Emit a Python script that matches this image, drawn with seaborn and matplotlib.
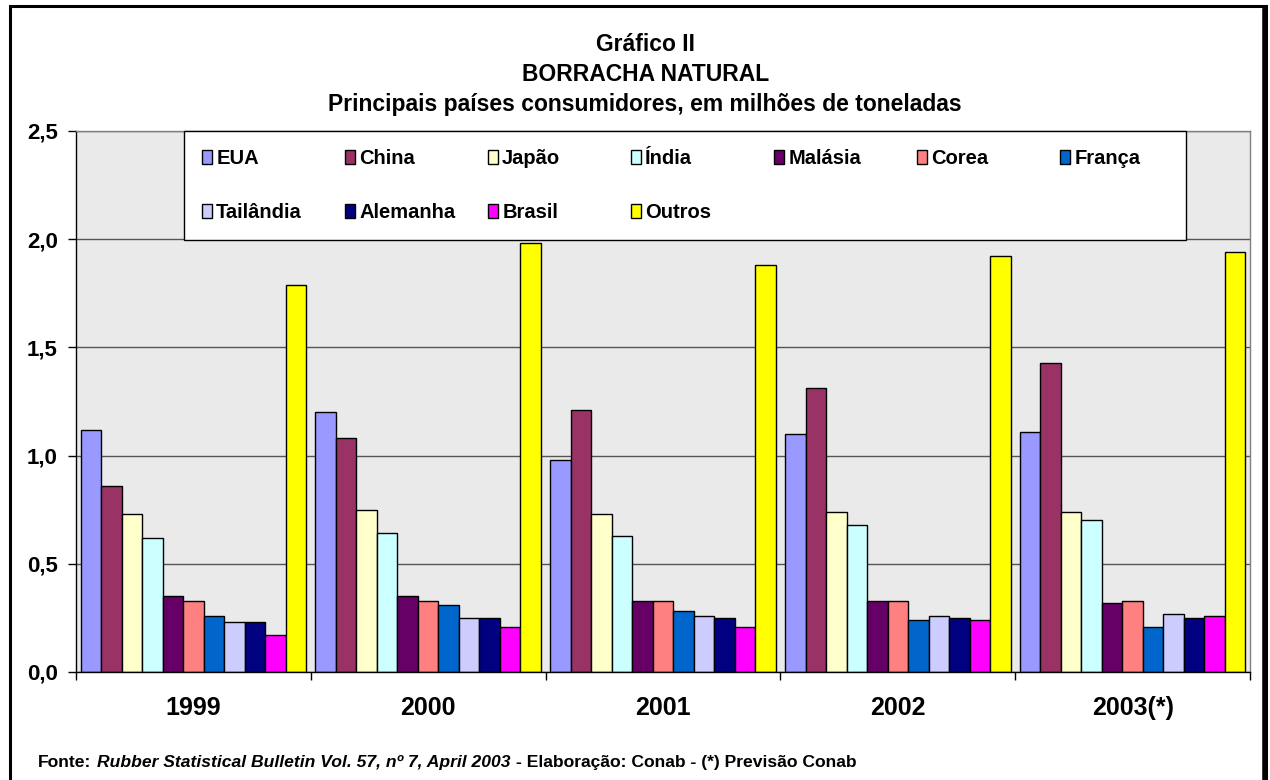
import matplotlib
matplotlib.use("Agg")
from matplotlib import pyplot as plt
from matplotlib.patches import Rectangle
from matplotlib.lines import Line2D
from matplotlib.offsetbox import TextArea, HPacker, AnchoredOffsetbox
from matplotlib.ticker import FuncFormatter, FixedLocator
import pandas as pd
import seaborn as sns

# dados (milhoes de toneladas)
anos = ["1999", "2000", "2001", "2002", "2003(*)"]
paises = ["EUA", "China", "Japão", "Índia", "Malásia", "Corea", "França",
          "Tailândia", "Alemanha", "Brasil", "Outros"]
eua = [1.12, 1.20, 0.98, 1.10, 1.11]
china = [0.86, 1.08, 1.21, 1.31, 1.43]
japao = [0.73, 0.75, 0.73, 0.74, 0.74]
india = [0.62, 0.64, 0.63, 0.68, 0.70]
malasia = [0.35, 0.35, 0.33, 0.33, 0.32]
corea = [0.33, 0.33, 0.33, 0.33, 0.33]
franca = [0.26, 0.31, 0.28, 0.24, 0.21]
tailandia = [0.23, 0.25, 0.26, 0.26, 0.27]
alemanha = [0.23, 0.25, 0.25, 0.25, 0.25]
brasil = [0.17, 0.21, 0.21, 0.24, 0.26]
outros = [1.79, 1.98, 1.88, 1.92, 1.94]

cores = ["#9999FF", "#993366", "#FFFFCC", "#CCFFFF", "#660066", "#FF8080",
         "#0066CC", "#CCCCFF", "#000080", "#FF00FF", "#FFFF00"]

valores = [eua, china, japao, india, malasia, corea, franca,
           tailandia, alemanha, brasil, outros]
df = pd.DataFrame(
    [(ano, pais, serie[i]) for pais, serie in zip(paises, valores)
     for i, ano in enumerate(anos)],
    columns=["ano", "pais", "valor"],
)

sns.set_style("white")
plt.rcParams["font.family"] = ["Liberation Sans", "DejaVu Sans"]
plt.rcParams["font.weight"] = "bold"
plt.rcParams["text.color"] = "black"
plt.rcParams["xtick.color"] = "black"
plt.rcParams["ytick.color"] = "black"

fig = plt.figure(figsize=(12.7, 7.8), dpi=100)
fig.set_facecolor("white")
ax = fig.add_axes([0.0598, 0.1385, 0.9245, 0.6936])
ax.set_facecolor("#eaeaea")

sns.barplot(data=df, x="ano", y="valor", hue="pais", hue_order=paises,
            order=anos, palette=cores, saturation=1, width=0.96, gap=0,
            errorbar=None, edgecolor="black", linewidth=1, ax=ax)

ax.set_xlim(-0.5, len(anos) - 0.5)
ax.set_ylim(0, 2.5)
ax.set_yticks([0, 0.5, 1.0, 1.5, 2.0, 2.5])
ax.yaxis.set_major_formatter(FuncFormatter(lambda v, p: f"{v:.1f}".replace(".", ",")))
ax.set_axisbelow(True)
ax.yaxis.grid(True, color="#555555", linewidth=1)
ax.xaxis.grid(False)
ax.set_xlabel("")
ax.set_ylabel("")

ax.tick_params(axis="y", which="major", left=True, direction="out", length=6,
               width=1, color="black", labelcolor="black", pad=7, labelsize=16)
ax.tick_params(axis="x", which="major", length=0, pad=17, labelsize=18,
               labelcolor="black")
ax.xaxis.set_minor_locator(FixedLocator([i - 0.5 for i in range(len(anos) + 1)]))
ax.tick_params(axis="x", which="minor", bottom=True, direction="out",
               length=6, width=1, color="black")
for lab in ax.get_xticklabels() + ax.get_yticklabels():
    lab.set_fontweight("bold")

for side in ["left", "bottom"]:
    ax.spines[side].set_color("black")
    ax.spines[side].set_linewidth(1)
for side in ["top", "right"]:
    ax.spines[side].set_color("#808080")
    ax.spines[side].set_linewidth(1)

# legenda em linhas (matplotlib preenche por coluna)
handles, labels = ax.get_legend_handles_labels()
ordem = [0, 7, 1, 8, 2, 9, 3, 10, 4, 5, 6]
leg = ax.legend([handles[i] for i in ordem], [labels[i] for i in ordem],
                ncol=7, mode="expand", loc="upper left", alignment="left",
                bbox_to_anchor=(0.092, 0.7985, 0.8535, 0.2015),
                frameon=True, fancybox=False, framealpha=1, edgecolor="black",
                facecolor="white", prop={"weight": "bold", "size": 14.5},
                handlelength=0.5, handleheight=0.7, handletextpad=0.2,
                borderpad=0.9, labelspacing=1.75, borderaxespad=0)
leg.get_frame().set_linewidth(1)
for txt in leg.get_texts():
    txt.set_color("black")
# colunas com espacamento uniforme, como no original
caixa = getattr(leg, "_legend_handle_box", None)
if caixa is not None:
    caixa.mode = "equal"
    caixa.set_width(143 * 7)

# titulo
titulos = ["Gráfico II", "BORRACHA NATURAL",
           "Principais países consumidores, em milhões de toneladas"]
for t, y in zip(titulos, [0.943, 0.905, 0.866]):
    fig.text(0.508, y, t, ha="center", va="center", fontsize=16.5,
             fontweight="bold", color="black")

# rodape
partes = [
    TextArea("Fonte:", textprops=dict(weight="bold", size=12.6, color="black")),
    TextArea("Rubber Statistical Bulletin Vol. 57, nº 7, April 2003",
             textprops=dict(weight="bold", style="italic", size=12.6, color="black")),
    TextArea("- Elaboração: Conab - (*) Previsão Conab",
             textprops=dict(weight="bold", size=12.6, color="black")),
]
rodape = HPacker(children=partes, pad=0, sep=4, align="baseline")
fig.add_artist(AnchoredOffsetbox(loc="lower left", child=rodape, pad=0, borderpad=0,
                                 frameon=False, bbox_to_anchor=(38 / 1270, 10 / 780),
                                 bbox_transform=fig.transFigure))

# moldura
fig.add_artist(Rectangle((0.0075, -0.1), 0.989, 1.0917, transform=fig.transFigure,
                         fill=False, lw=2.2, ec="black"))
fig.add_artist(Line2D([0.9963, 0.9963], [-0.1, 0.989], transform=fig.transFigure,
                      color="black", lw=4))

fig.savefig("out.png", dpi=100)
